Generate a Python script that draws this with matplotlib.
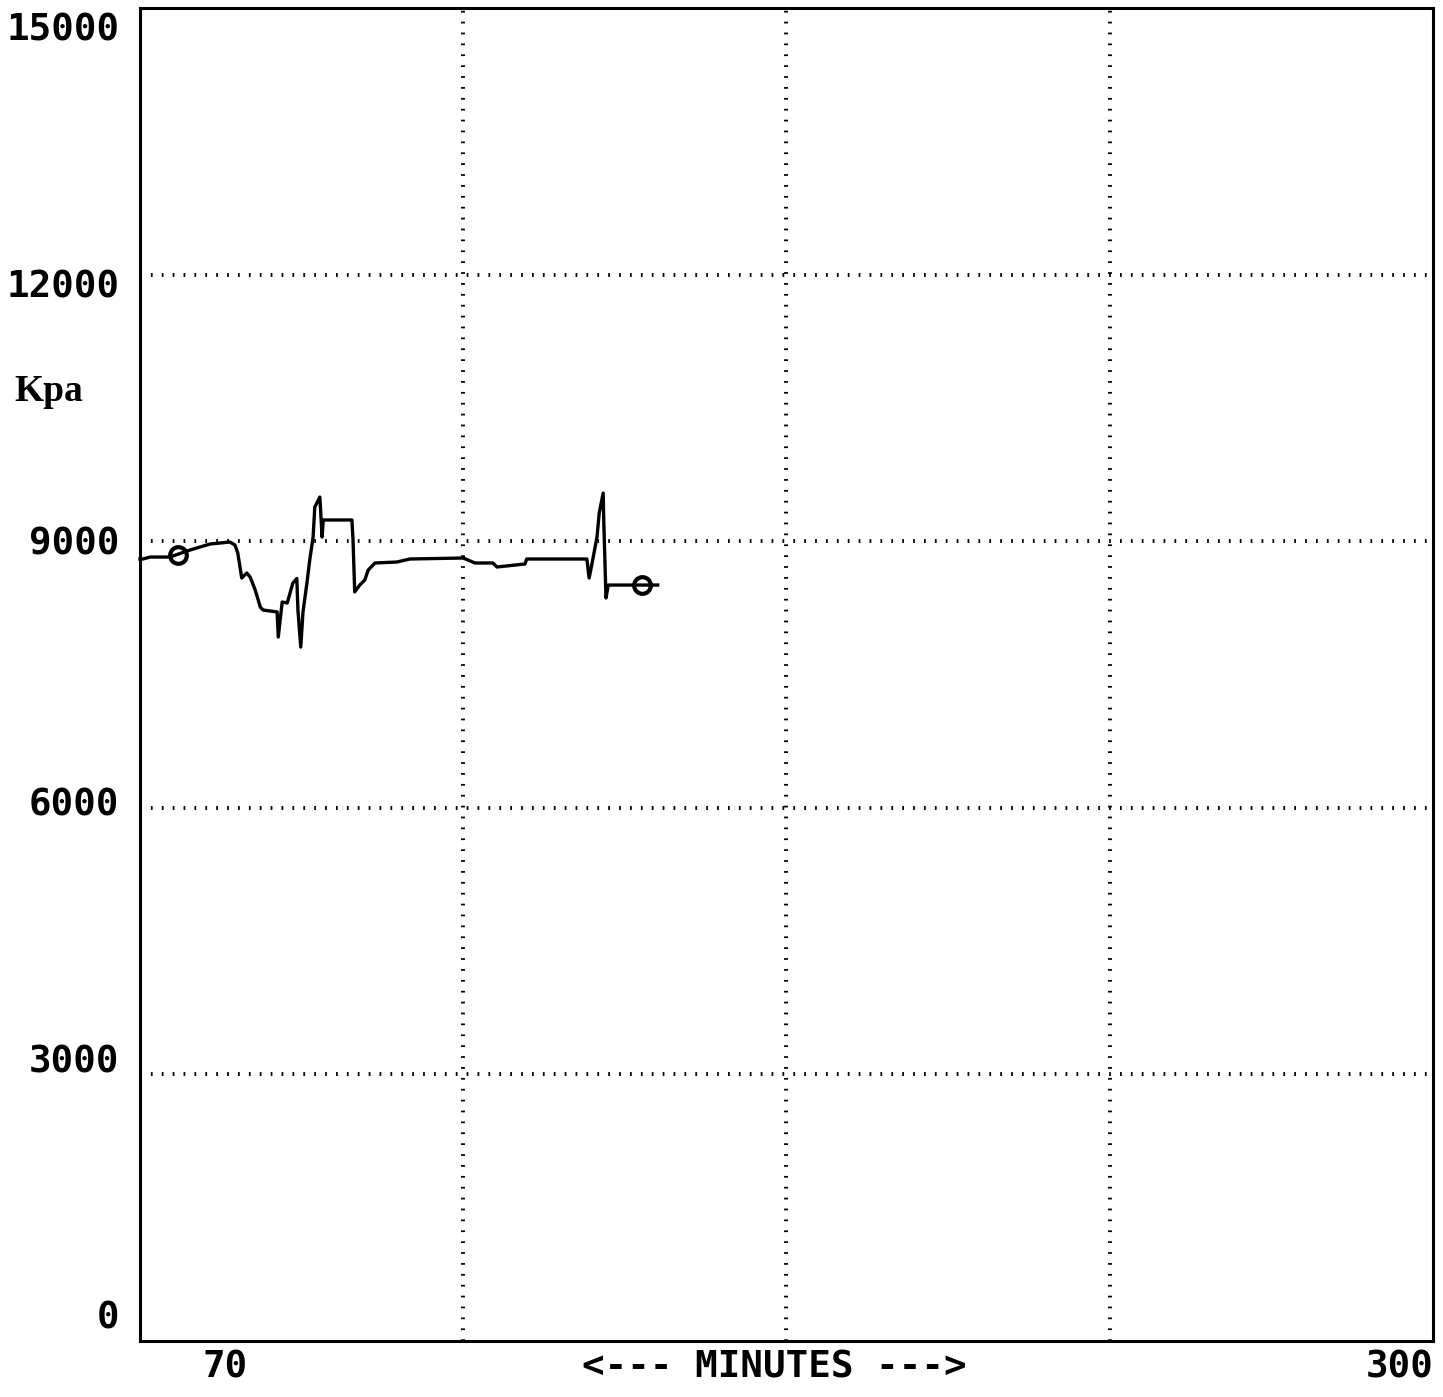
import matplotlib.pyplot as plt

# pressure trace, minutes vs Kpa
minutes = [70.0, 70.5, 71.8, 75.3, 78.9, 80.7, 82.5, 86.0, 86.9, 87.4, 88.1, 89.0,
           89.6, 90.5, 91.4, 91.9, 94.4, 94.6, 95.3, 96.2, 97.2, 97.9, 98.1, 98.6,
           99.0, 99.7, 100.2, 100.8, 101.1, 102.0, 102.4, 102.6, 103.3, 107.7, 107.9,
           108.2, 109.1, 110.0, 110.6, 111.8, 115.7, 118.0, 127.5, 129.6, 132.8,
           133.5, 138.5, 138.8, 149.5, 149.9, 150.4, 151.3, 151.7, 152.4, 152.5,
           152.9, 153.3, 157.7, 162.1]
kpa = [8800, 8800, 8822, 8822, 8901, 8935, 8969, 8991, 8957, 8867, 8586, 8642,
       8597, 8451, 8260, 8226, 8204, 7922, 8316, 8305, 8530, 8580, 8226, 7809,
       8204, 8530, 8789, 9047, 9385, 9497, 9047, 9239, 9239, 9239, 9014,
       8429, 8507, 8564, 8676, 8755, 8766, 8800, 8811, 8755, 8755,
       8710, 8744, 8800, 8800, 8586, 8744, 9047, 9318, 9542, 9239,
       8361, 8507, 8507, 8507]

marker_min = [76.8, 159.3]
marker_kpa = [8845, 8507]

x_range = (70, 300)
y_range = (0, 15000)
x_grid = [127.5, 185, 242.5]
y_grid = [3000, 6000, 9000, 12000]
y_labels = ['0', '3000', '6000', '9000', '12000', '15000']
y_label_pos = [260, 3140, 6030, 8960, 11850, 14750]

fig = plt.figure(figsize=(14.43, 13.97), dpi=100)
ax = fig.add_axes([0.097, 0.040, 0.896, 0.9543])
ax.set_xlim(*x_range)
ax.set_ylim(*y_range)
ax.set_xticks([])
ax.set_yticks([])
for s in ax.spines.values():
    s.set_linewidth(2.2)

dots = (0, (0.45, 2.35))
for gx in x_grid:
    ax.axvline(gx, color='black', lw=2.8, ls=dots, zorder=1)
for gy in y_grid:
    ax.axhline(gy, color='black', lw=2.8, ls=dots, zorder=1)

ax.plot(marker_min, marker_kpa, 'o', ms=12, mfc='white', mec='black', mew=3, zorder=2)
ax.plot(minutes, kpa, color='black', lw=2.4, zorder=3, clip_on=False)

mono = dict(family='DejaVu Sans Mono', weight='bold', size=27)
for txt, yp in zip(y_labels, y_label_pos):
    ax.text(-0.016, yp, txt, transform=ax.get_yaxis_transform(), ha='right', va='center', **mono)

ax.text(-0.097, 10680, 'Kpa', transform=ax.get_yaxis_transform(), ha='left', va='center',
        family='Liberation Serif', weight='bold', size=27)

ax.text(0.0657, -0.0195, '70', transform=ax.transAxes, ha='center', va='center', **mono)
ax.text(0.9745, -0.0195, '300', transform=ax.transAxes, ha='center', va='center', **mono)
ax.text(0.491, -0.0195, '<--- MINUTES --->', transform=ax.transAxes, ha='center', va='center', **mono)

fig.savefig('out.png', dpi=100)
